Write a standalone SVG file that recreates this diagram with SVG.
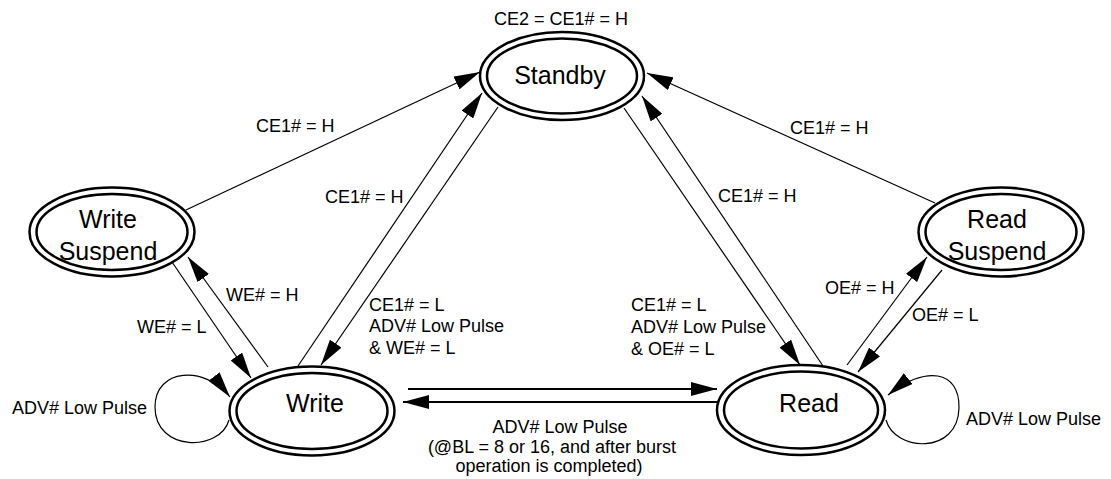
<svg xmlns="http://www.w3.org/2000/svg" width="1111" height="479" viewBox="0 0 1111 479">
<style>
.node ellipse{fill:none;stroke:#000;stroke-width:2.5}
.ntxt{font-family:"Liberation Sans",Arial,sans-serif;font-size:25px;fill:#000;text-anchor:middle}
.lbl{font-family:"Liberation Sans",Arial,sans-serif;font-size:18px;fill:#000}
.c{fill:none;stroke:#000;stroke-width:1.2;marker-end:url(#ah)}
.thick{stroke-width:2}
</style>
<defs>
<marker id="ah" markerUnits="userSpaceOnUse" markerWidth="26" markerHeight="14" refX="26" refY="7" orient="auto">
<path d="M0,0 L26,7 L0,14 z" fill="#000"/>
</marker>
</defs>
<rect width="1111" height="479" fill="#fff"/>
<g id="connectors">
<line class="c" x1="186" y1="210" x2="480" y2="72"/>
<line class="c" x1="298" y1="366" x2="482" y2="93"/>
<line class="c" x1="498" y1="107" x2="321" y2="365"/>
<line class="c" x1="268" y1="367" x2="188" y2="257"/>
<line class="c" x1="172" y1="262" x2="251" y2="378"/>
<line class="c" x1="935" y1="203" x2="647" y2="73"/>
<line class="c" x1="823" y1="366" x2="642" y2="96"/>
<line class="c" x1="624" y1="108" x2="800" y2="365"/>
<line class="c" x1="847" y1="365" x2="927" y2="257"/>
<line class="c" x1="942" y1="270" x2="858" y2="372"/>
<line class="c thick" x1="408" y1="389" x2="717" y2="389"/>
<line class="c thick" x1="718" y1="402" x2="403" y2="402"/>
<path class="c" d="M229,420 C220,452 155,452 155,407 C155,368 205,365 230,397"/>
<path class="c" d="M886,420 C895,452 958,455 959,408 C960,370 925,365 888,395"/>
</g>
<g id="labels">
<text class="lbl" x="561" y="25" text-anchor="middle">CE2 = CE1# = H</text>
<text class="lbl" x="256" y="132">CE1# = H</text>
<text class="lbl" x="325" y="203">CE1# = H</text>
<text class="lbl" x="226" y="301">WE# = H</text>
<text class="lbl" x="137" y="333">WE# = L</text>
<text class="lbl" x="369" y="311">CE1# = L</text>
<text class="lbl" x="369" y="332">ADV# Low Pulse</text>
<text class="lbl" x="369" y="354">&amp; WE# = L</text>
<text class="lbl" x="790" y="134">CE1# = H</text>
<text class="lbl" x="718" y="202">CE1# = H</text>
<text class="lbl" x="631" y="311">CE1# = L</text>
<text class="lbl" x="631" y="333">ADV# Low Pulse</text>
<text class="lbl" x="631" y="355">&amp; OE# = L</text>
<text class="lbl" x="825" y="294">OE# = H</text>
<text class="lbl" x="912" y="321">OE# = L</text>
<text class="lbl" x="12" y="414">ADV# Low Pulse</text>
<text class="lbl" x="966" y="425">ADV# Low Pulse</text>
<text class="lbl" x="560" y="433" text-anchor="middle">ADV# Low Pulse</text>
<text class="lbl" x="552" y="453" text-anchor="middle">(@BL = 8 or 16, and after burst</text>
<text class="lbl" x="549" y="472" text-anchor="middle">operation is completed)</text>
</g>
<g id="standby" class="node">
<ellipse cx="562" cy="76" rx="82" ry="44"/>
<ellipse cx="562" cy="76" rx="75" ry="37.5"/>
<text class="ntxt" x="560" y="84">Standby</text>
</g>
<g id="write-suspend" class="node">
<ellipse cx="112" cy="232" rx="82.5" ry="44.5"/>
<ellipse cx="112" cy="232" rx="75.5" ry="38"/>
<text class="ntxt" x="108" y="228">Write</text>
<text class="ntxt" x="108" y="260">Suspend</text>
</g>
<g id="read-suspend" class="node">
<ellipse cx="1001" cy="232" rx="82.5" ry="44.5"/>
<ellipse cx="1001" cy="232" rx="75.5" ry="38"/>
<text class="ntxt" x="997" y="228">Read</text>
<text class="ntxt" x="997" y="260">Suspend</text>
</g>
<g id="write" class="node">
<ellipse cx="312" cy="411" rx="82.5" ry="44.5"/>
<ellipse cx="312" cy="411" rx="75.5" ry="38"/>
<text class="ntxt" x="315" y="412">Write</text>
</g>
<g id="read" class="node">
<ellipse cx="801" cy="410" rx="84" ry="45"/>
<ellipse cx="801" cy="410" rx="77" ry="38.5"/>
<text class="ntxt" x="809" y="412">Read</text>
</g>
</svg>
